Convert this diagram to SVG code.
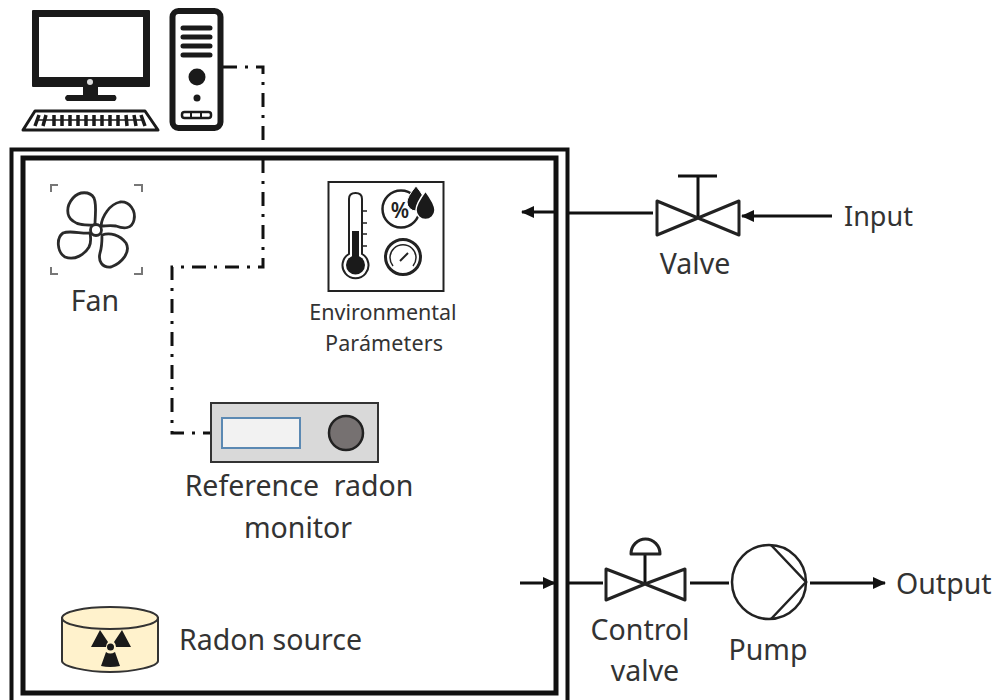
<svg xmlns="http://www.w3.org/2000/svg" width="997" height="700" viewBox="0 0 997 700">
<style>
text{font-family:"Noto Sans","Open Sans","Liberation Sans",sans-serif;fill:#333;font-size:28.500px}
.m{text-anchor:middle}
.s{font-size:21.500px}
.l{fill:none;stroke:#111;stroke-width:3}
.v{fill:#fff;stroke:#222;stroke-width:3;stroke-linejoin:round}
.k{fill:#1a1a1a}
.ln{fill:none;stroke:#1a1a1a;stroke-linecap:round}
</style>
<defs>
<marker id="a" markerUnits="userSpaceOnUse" markerWidth="14" markerHeight="14" refX="12" refY="7" orient="auto"><path d="M0 1L13 7L0 13Z" fill="#111"/></marker>
</defs>
<rect width="997" height="700" fill="#fff"/>
<g id="chamber" fill="none" stroke="#111">
<path d="M11.500 720V149.500H567.500V720" stroke-width="4"/>
<rect x="23" y="158" width="533" height="535" stroke-width="5"/>
</g>
<g id="connectors">
<path d="M223 67H263V267H172V433H210" fill="none" stroke="#111" stroke-width="3" stroke-dasharray="14 8 3 8"/>
<path class="l" d="M653 213H569"/>
<path class="l" d="M557 212H522" marker-end="url(#a)"/>
<path class="l" d="M832 216H742" marker-end="url(#a)"/>
<path class="l" d="M520 583H555" marker-end="url(#a)"/>
<path class="l" d="M569 583H603M690 583H729"/>
<path class="l" d="M810 583H885" marker-end="url(#a)"/>
</g>
<g id="computer">
<rect x="32" y="10" width="118" height="77" rx="1" class="k"/>
<rect x="39" y="17" width="104" height="60" fill="#fff"/>
<circle cx="90" cy="82" r="3" fill="#ddd"/>
<path class="k" d="M83 87H98V95H115Q118 98 115 101H67Q63 98 67 95H83Z"/>
<path d="M35 111H145L158 130H23Z" fill="#fff" stroke="#1a1a1a" stroke-width="3" stroke-linejoin="round"/>
<path d="M38 120H143" stroke="#1a1a1a" stroke-width="1.500"/>
<path d="M39 115L35 126M46 115L43 126M54 115V126M62 115V126M70 115V126M78 115V126M86 115V126M94 115V126M102 115V126M110 115V126M118 115V126M126 115L127 126M134 115L136 126M141 115L145 126" fill="none" stroke="#1a1a1a" stroke-width="3.500"/>
</g>
<g id="tower">
<rect x="172.500" y="11" width="48" height="117" rx="6" fill="#fff" stroke="#1a1a1a" stroke-width="6"/>
<path class="ln" stroke-width="5" d="M183 28H210M183 37H210M183 46H210M183 55H210"/>
<circle class="k" cx="197" cy="77" r="8.500"/>
<circle class="k" cx="197" cy="98" r="3.500"/>
<rect x="182" y="112" width="29" height="6" rx="2.500" fill="#fff" stroke="#1a1a1a" stroke-width="2.500"/>
<path d="M191 112V118M201 112V118" stroke="#1a1a1a" stroke-width="2"/>
</g>
<g id="fan">
<path d="M51 192V185H58M134 185H142V192M51 267V274H58M134 274H142V267" fill="none" stroke="#777" stroke-width="2"/>
<g fill="#fff" stroke="#2a2a2a" stroke-width="2.800">
<path d="M95 225C95 215 97 205 94 198C90 191 79 191 73 198C66 206 66 216 73 221C79 226 88 225 95 225Z"/>
<path d="M101 226C102 216 110 204 120 202C130 201 136 211 134 220C132 229 124 229 116 226C110 225 106 226 101 226Z"/>
<path d="M102 235C110 232 120 235 126 243C131 252 122 263 111 267C102 268 98 261 100 253C102 247 102 241 102 235Z"/>
<path d="M90 233C82 234 70 230 63 233C56 238 57 252 65 257C75 261 85 254 89 247C91 243 91 238 90 233Z"/>
</g>
<circle cx="96" cy="230" r="5.500" fill="#fff" stroke="#2a2a2a" stroke-width="2.800"/>
<text x="95" y="311" class="m">Fan</text>
</g>
<g id="environment">
<rect x="328.500" y="182" width="115" height="109" fill="#fff" stroke="#222" stroke-width="2"/>
<path d="M349 254V199Q349 193 355.500 193Q362 193 362 199V254A13 13 0 1 1 349 254Z" fill="#fff" stroke="#222" stroke-width="2"/>
<path class="k" d="M352 231H359V258H352Z"/>
<circle class="k" cx="355.500" cy="265" r="9.500"/>
<path d="M362 211H367M362 223H367M362 234H367M362 246H367" stroke="#222" stroke-width="1.500"/>
<circle cx="401" cy="209" r="18.500" fill="none" stroke="#222" stroke-width="2.500"/>
<text x="400" y="218" class="m" style="font-size:21px;font-weight:600;fill:#222">%</text>
<path d="M416 186Q425 197 425 202A9 9 0 0 1 407 202Q407 197 416 186Z" class="k" stroke="#fff" stroke-width="1"/>
<path d="M425.500 191Q435 204 435 210A9.500 9.500 0 0 1 416 210Q416 204 425.500 191Z" class="k" stroke="#fff" stroke-width="1.500"/>
<circle cx="403" cy="257" r="17.500" fill="none" stroke="#222" stroke-width="3"/>
<path d="M393 266A13 13 0 1 1 413 266" fill="none" stroke="#222" stroke-width="1.500"/>
<path d="M400 261L408 253" stroke="#222" stroke-width="2"/>
<text x="383" y="320" class="m s">Environmental</text>
<text x="384" y="351" class="m s" textLength="118">Parámeters</text>
</g>
<g id="monitor">
<rect x="211" y="403" width="167" height="59" fill="#d9d9d9" stroke="#333" stroke-width="2"/>
<rect x="222" y="418" width="78" height="30" fill="#f2f2f2" stroke="#5b89b3" stroke-width="2"/>
<circle cx="346" cy="433" r="17" fill="#767171" stroke="#222" stroke-width="2.500"/>
<text x="299" y="496" class="m" xml:space="preserve">Reference  radon</text>
<text x="298" y="538" class="m">monitor</text>
</g>
<g id="source">
<path d="M62 618V661C62 666 85 672 110 672S158 666 158 661V618Z" fill="#fff2cc" stroke="#333" stroke-width="2"/>
<ellipse cx="110" cy="618" rx="48" ry="11" fill="#fff2cc" stroke="#333" stroke-width="2"/>
<g class="k">
<circle cx="110.500" cy="647" r="3.500"/>
<path d="M100 630L91 647H106Q106 644 108 642Z"/>
<path d="M122 630L131 647H116Q116 644 114 642Z"/>
<path d="M106 652L101 666Q110 668 120 666L115 652Q110 655 106 652Z"/>
</g>
<text x="179" y="650">Radon source</text>
</g>
<g id="valve">
<path class="l" d="M698 218V176M678 176H717"/>
<path class="v" d="M657 201L698 218L657 235ZM739 201L698 218L739 235Z"/>
<text x="695" y="274" class="m">Valve</text>
</g>
<text id="input" x="844" y="226" style="font-size:27px">Input</text>
<g id="control-valve">
<path class="l" d="M645 584V554"/>
<path class="v" d="M631 554A14.500 15 0 0 1 660 554Z"/>
<path class="v" d="M606 569L645 584L606 600ZM685 569L645 584L685 600Z"/>
<text x="640" y="640" class="m">Control</text>
<text x="645" y="681" class="m">valve</text>
</g>
<g id="pump">
<circle cx="769" cy="582" r="37" fill="#fff" stroke="#222" stroke-width="2.500"/>
<path d="M771 545L806 582L771 619" fill="none" stroke="#222" stroke-width="2.500"/>
<text x="768" y="660" class="m">Pump</text>
</g>
<text id="output" x="896" y="594">Output</text>
</svg>
